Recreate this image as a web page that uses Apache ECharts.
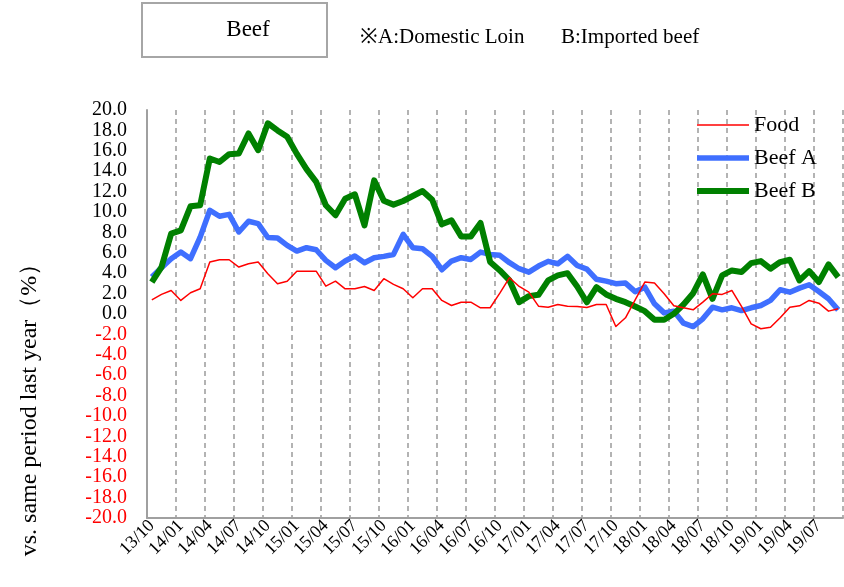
<!DOCTYPE html>
<html><head><meta charset="utf-8">
<script src="https://cdn.jsdelivr.net/npm/echarts@6/dist/echarts.min.js"></script>
<style>html,body{margin:0;padding:0;background:#fff}#c{width:844px;height:587px}</style>
</head><body><div id="c"></div>
<script>
const months = ['13/10','13/11','13/12',
 '14/01','14/02','14/03','14/04','14/05','14/06','14/07','14/08','14/09','14/10','14/11','14/12',
 '15/01','15/02','15/03','15/04','15/05','15/06','15/07','15/08','15/09','15/10','15/11','15/12',
 '16/01','16/02','16/03','16/04','16/05','16/06','16/07','16/08','16/09','16/10','16/11','16/12',
 '17/01','17/02','17/03','17/04','17/05','17/06','17/07','17/08','17/09','17/10','17/11','17/12',
 '18/01','18/02','18/03','18/04','18/05','18/06','18/07','18/08','18/09','18/10','18/11','18/12',
 '19/01','19/02','19/03','19/04','19/05','19/06','19/07','19/08','19/09'];
const food = [1.39,1.92,2.31,1.33,2.08,2.47,5.09,5.32,5.32,4.6,4.93,5.09,
 3.95,2.97,3.22,4.2,4.2,4.2,2.73,3.22,2.47,2.47,2.7,2.31,
 3.46,2.9,2.47,1.59,2.47,2.47,1.33,0.83,1.16,1.16,0.61,0.61,
 2.04,3.56,2.7,2.14,0.77,0.67,0.93,0.77,0.74,0.64,0.93,0.93,
 -1.23,-0.37,1.39,3.13,3.03,1.98,0.8,0.61,0.41,1.16,1.98,1.92,
 2.31,0.74,-0.96,-1.45,-1.3,-0.37,0.67,0.8,1.33,1.06,0.28,0.51];
const beefA = [3.62,4.54,5.42,6.07,5.42,7.54,10.17,9.58,9.77,8.04,9.09,8.86,
 7.5,7.45,6.73,6.17,6.5,6.3,5.26,4.54,5.19,5.68,5.03,5.52,
 5.65,5.84,7.81,6.5,6.4,5.65,4.34,5.19,5.52,5.35,6.07,5.84,
 5.75,5.03,4.44,4.1,4.7,5.16,4.93,5.65,4.76,4.4,3.4,3.22,
 2.97,3.03,2.19,2.63,1.0,0.11,0.28,-0.9,-1.23,-0.47,0.67,0.41,
 0.61,0.34,0.61,0.83,1.33,2.38,2.14,2.54,2.87,2.21,1.49,0.41];
const beefB = [3.12,4.6,7.88,8.2,10.56,10.66,15.25,14.9,15.67,15.74,17.7,16.06,
 18.7,18.0,17.37,15.7,14.2,12.95,10.66,9.68,11.3,11.74,8.69,13.1,
 11.1,10.72,11.08,11.57,12.06,11.2,8.79,9.18,7.61,7.61,8.92,5.09,
 4.27,3.29,1.16,1.75,1.88,3.29,3.78,4.0,2.7,1.15,2.63,1.92,
 1.49,1.16,0.74,0.28,-0.57,-0.57,0.02,0.93,2.04,3.88,1.49,3.78,
 4.27,4.11,4.99,5.19,4.44,5.09,5.32,3.29,4.21,3.13,4.86,3.62];
const seriesNames = ['Food','Beef A','Beef B'];
const titleText = 'Beef';
const noteA = '※A:Domestic Loin';
const noteB = 'B:Imported beef';
const yTitle = 'vs. same period last year（%）';

const FF = "'Liberation Serif','Times New Roman',serif";
const chart = echarts.init(document.getElementById('c'), null, {renderer:'canvas'});
chart.setOption({
  animation:false,
  backgroundColor:'#fff',
  grid:{left:147, right:1, top:110, bottom:69, containLabel:false},
  xAxis:[{
    type:'category', data:months, boundaryGap:true,
    axisLine:{show:false}, axisTick:{show:false},
    axisLabel:{interval:2, rotate:45, fontFamily:FF, fontSize:18, color:'#000', margin:5},
    splitLine:{show:true, interval:function(i){return i>0 && i%3===0;}, lineStyle:{color:'#9a9a9a', type:[5,4], width:1.5}}
  },{
    type:'category', data:months, boundaryGap:true, position:'bottom',
    axisLine:{show:true, onZero:true, lineStyle:{color:'#a0a0a0', width:2}},
    axisTick:{show:false}, axisLabel:{show:false}, splitLine:{show:false}
  }],
  yAxis:{
    type:'value', min:-20, max:20, interval:2,
    axisLine:{show:true, lineStyle:{color:'#a0a0a0', width:2}}, axisTick:{show:false},
    axisLabel:{formatter:function(v){return v.toFixed(1);}, color:function(v){return v<0?'#ff0000':'#000';}, fontFamily:FF, fontSize:20, margin:20},
    splitLine:{show:false}
  },
  legend:{
    data:seriesNames, orient:'vertical', left:694, top:114, padding:0, itemWidth:52, itemHeight:21, itemGap:11, itemTextGap:5,
    textStyle:{fontFamily:FF, fontSize:22, color:'#000'}, lineStyle:{width:'inherit'}, itemStyle:{opacity:0}
  },
  series:[
    {name:seriesNames[1], type:'line', data:beefA, symbol:'none', z:2, lineStyle:{color:'#3f6fff', width:5.5, join:'round'}, itemStyle:{color:'#3f6fff'}},
    {name:seriesNames[2], type:'line', data:beefB, symbol:'none', z:3, lineStyle:{color:'#008000', width:6, join:'round'}, itemStyle:{color:'#008000'}},
    {name:seriesNames[0], type:'line', data:food, symbol:'none', z:4, lineStyle:{color:'#ff0000', width:1.5, join:'round'}, itemStyle:{color:'#ff0000'}}
  ],
  graphic:[
    {type:'rect', left:141, top:2, shape:{width:185, height:54}, style:{fill:'#fff', stroke:'#a6a6a6', lineWidth:2}},
    {type:'text', x:248, y:30, style:{text:titleText, fontFamily:FF, fontSize:23, fill:'#000', align:'center', verticalAlign:'middle'}},
    {type:'text', x:360, y:37, style:{text:noteA, fontFamily:FF, fontSize:21, fill:'#000', align:'left', verticalAlign:'middle'}},
    {type:'text', x:561, y:37, style:{text:noteB, fontFamily:FF, fontSize:21, fill:'#000', align:'left', verticalAlign:'middle'}},
    {type:'text', x:30, y:404, rotation:Math.PI/2, style:{text:yTitle, fontFamily:FF, fontSize:24, fill:'#000', align:'center', verticalAlign:'middle'}}
  ]
});
</script></body></html>
